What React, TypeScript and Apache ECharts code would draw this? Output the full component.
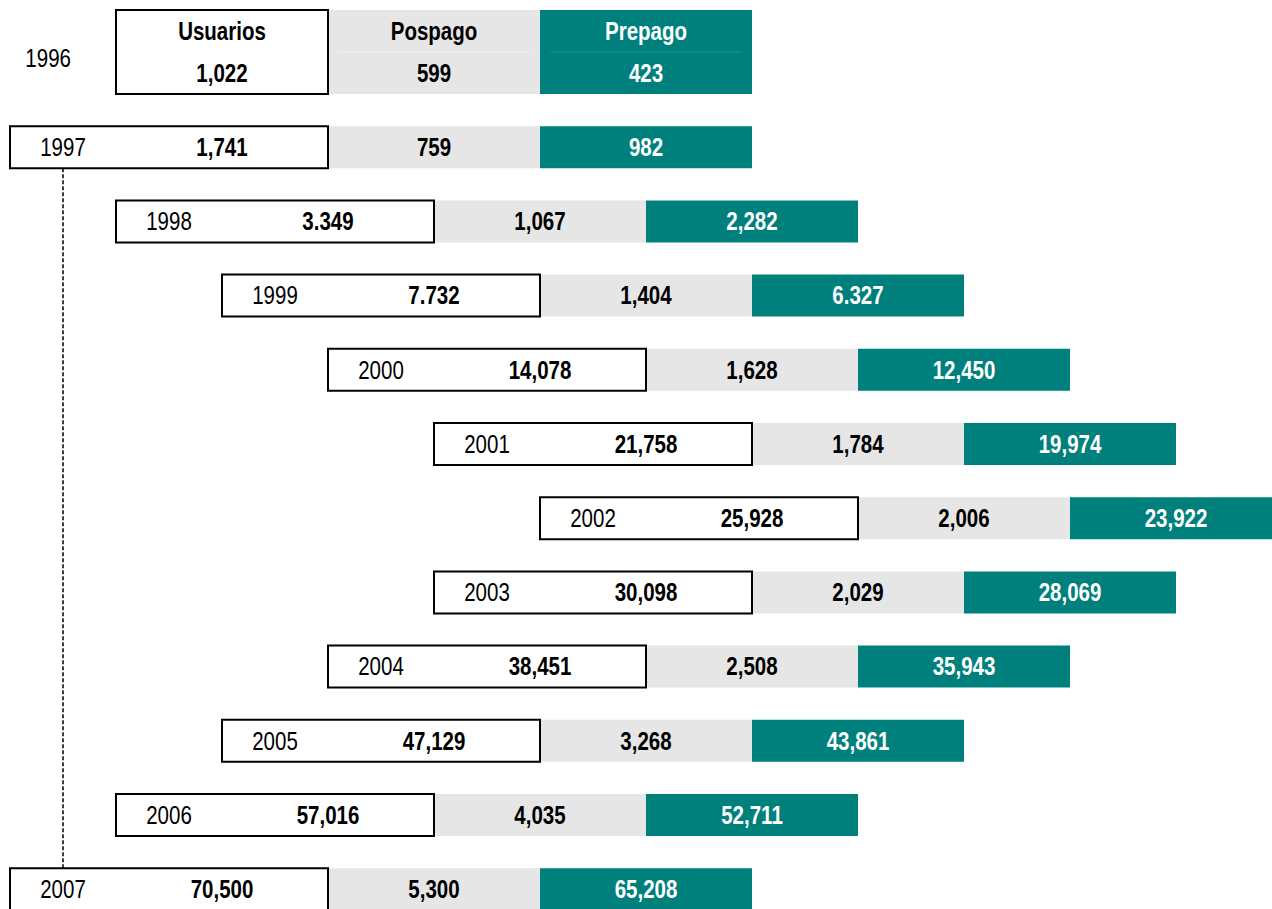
import { useEffect, useRef } from 'react';
import * as echarts from 'echarts';

// Subscribers per year (thousands), as printed in each block
const years = ['1996', '1997', '1998', '1999', '2000', '2001', '2002', '2003', '2004', '2005', '2006', '2007'];
const usuarios = ['1,022', '1,741', '3.349', '7.732', '14,078', '21,758', '25,928', '30,098', '38,451', '47,129', '57,016', '70,500'];
const pospago = ['599', '759', '1,067', '1,404', '1,628', '1,784', '2,006', '2,029', '2,508', '3,268', '4,035', '5,300'];
const prepago = ['423', '982', '2,282', '6.327', '12,450', '19,974', '23,922', '28,069', '35,943', '43,861', '52,711', '65,208'];
const headers = ['Usuarios', 'Pospago', 'Prepago'];

const TEAL = '#00807D';
const GREY = '#E6E6E6';
const FONT = '"Liberation Sans", Arial, sans-serif';
const NARROW = 0.82; // horizontal squeeze for a narrow face
const HALF = 0.283; // half a row's height, in row units
const PEAK = 6; // row where the stagger turns back

function rowOffset(i: number) {
  return i === 0 ? 1 : 5 - Math.abs(PEAK - i);
}

function txt(text: string, p: number[], fill: string, weight: string) {
  return {
    type: 'text',
    x: p[0],
    y: p[1],
    scaleX: NARROW,
    style: {
      text,
      x: 0,
      y: 0,
      fill,
      font: `${weight} 25px ${FONT}`,
      align: 'center',
      verticalAlign: 'middle',
      textAlign: 'center',
      textVerticalAlign: 'middle',
    },
  };
}

function rect(a: number[], b: number[], style: any) {
  return {
    type: 'rect',
    shape: { x: a[0], y: a[1], width: b[0] - a[0], height: b[1] - a[1] },
    style,
  };
}

function renderRow(_params: any, api: any) {
  const i = api.value(0) as number;
  const first = i === 0;
  const off = rowOffset(i);
  const boxL = off;
  const boxR = first ? 3 : off + 3;
  const posR = boxR + 2;
  const preR = posR + 2;
  const top = first ? i - 3 * HALF : i - HALF;
  const bot = i + HALF;
  const mid = i - HALF;

  const children: any[] = [];
  children.push(rect(api.coord([boxR, top]), api.coord([posR, bot]), { fill: GREY }));
  children.push(rect(api.coord([posR, top]), api.coord([preR, bot]), { fill: TEAL }));
  if (first) {
    const a = api.coord([boxR + 0.1, mid]);
    const b = api.coord([posR - 0.1, mid]);
    const c = api.coord([posR + 0.1, mid]);
    const d = api.coord([preR - 0.1, mid]);
    children.push({ type: 'line', shape: { x1: a[0], y1: a[1], x2: b[0], y2: b[1] }, style: { stroke: 'rgba(255,255,255,0.45)', lineWidth: 1 } });
    children.push({ type: 'line', shape: { x1: c[0], y1: c[1], x2: d[0], y2: d[1] }, style: { stroke: 'rgba(255,255,255,0.15)', lineWidth: 1 } });
  }
  children.push(rect(api.coord([boxL, top]), api.coord([boxR, bot]), { fill: '#fff', stroke: '#000', lineWidth: 2 }));

  if (first) {
    const hy = i - 2 * HALF;
    children.push(txt(headers[0], api.coord([boxR - 1, hy]), '#000', 'bold'));
    children.push(txt(headers[1], api.coord([boxR + 1, hy]), '#000', 'bold'));
    children.push(txt(headers[2], api.coord([posR + 1, hy]), '#fff', 'bold'));
    children.push(txt(years[i], api.coord([0.36, i - 0.2]), '#000', 'normal'));
  } else {
    children.push(txt(years[i], api.coord([boxL + 0.5, i]), '#000', 'normal'));
  }
  children.push(txt(usuarios[i], api.coord([boxR - 1, i]), '#000', 'bold'));
  children.push(txt(pospago[i], api.coord([boxR + 1, i]), '#000', 'bold'));
  children.push(txt(prepago[i], api.coord([posR + 1, i]), '#fff', 'bold'));

  return { type: 'group', children };
}

function renderLink(_params: any, api: any) {
  const last = years.length - 1;
  const a = api.coord([0.5, 1 + HALF]);
  const b = api.coord([0.5, last - HALF]);
  return {
    type: 'line',
    shape: { x1: a[0], y1: a[1], x2: b[0], y2: b[1] },
    style: { stroke: '#000', lineWidth: 1.5, lineDash: [4, 2] },
  };
}

export default function App() {
  const ref = useRef<HTMLDivElement>(null);

  useEffect(() => {
    if (!ref.current) return;
    const chart = echarts.init(ref.current, undefined, { renderer: 'svg' });
    chart.setOption({
      animation: false,
      backgroundColor: '#fff',
      grid: { left: 10, right: 96, top: 73, bottom: 19.8 },
      xAxis: { type: 'value', min: 0, max: 11, show: false },
      yAxis: { type: 'value', min: 0, max: 11, inverse: true, show: false },
      series: [
        {
          type: 'custom',
          clip: false,
          silent: true,
          renderItem: renderLink,
          data: [[0, 0]],
        },
        {
          type: 'custom',
          clip: false,
          silent: true,
          renderItem: renderRow,
          encode: { x: 1, y: 0 },
          data: years.map((_, i) => [i, 0]),
        },
      ],
    });
    return () => chart.dispose();
  }, []);

  return (
    <div
      ref={ref}
      style={{ position: 'fixed', left: 0, top: 0, width: 1272, height: 909, background: '#fff' }}
    />
  );
}
